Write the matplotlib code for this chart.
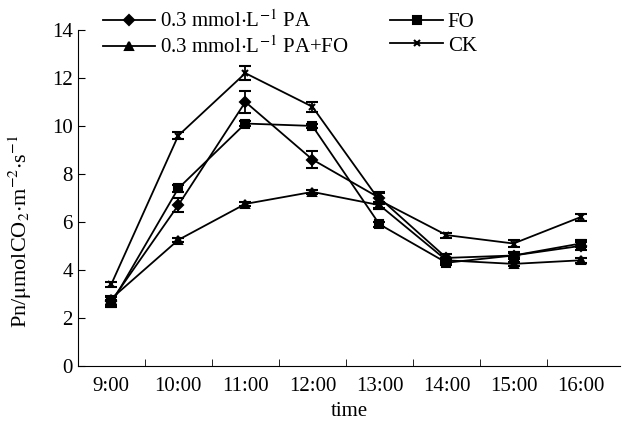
import matplotlib
matplotlib.use('Agg')
import matplotlib.pyplot as plt
from matplotlib.lines import Line2D

plt.rcParams['font.family'] = ['Liberation Serif', 'DejaVu Serif']
plt.rcParams['mathtext.fontset'] = 'stix'

# 数据
times = ['9:00', '10:00', '11:00', '12:00', '13:00', '14:00', '15:00', '16:00']
pa = [2.7, 6.7, 11.0, 8.6, 7.0, 4.5, 4.6, 5.0]
pa_err = [0.15, 0.3, 0.45, 0.35, 0.25, 0.15, 0.1, 0.15]
fo = [2.6, 7.4, 10.1, 10.0, 5.9, 4.3, 4.6, 5.1]
fo_err = [0.15, 0.15, 0.1, 0.1, 0.1, 0.1, 0.15, 0.15]
pafo = [2.8, 5.25, 6.75, 7.25, 6.7, 4.4, 4.25, 4.4]
pafo_err = [0.1, 0.1, 0.1, 0.1, 0.15, 0.1, 0.1, 0.1]
ck = [3.4, 9.6, 12.2, 10.8, 6.9, 5.45, 5.1, 6.2]
ck_err = [0.1, 0.15, 0.3, 0.2, 0.3, 0.1, 0.15, 0.15]

labels = [r'0.3 mmol$\cdot$L$^{-1}$ PA', r'0.3 mmol$\cdot$L$^{-1}$ PA+FO', 'FO', 'CK']

fig = plt.figure(figsize=(6.22, 4.22), dpi=100)
ax = fig.add_axes([0.125, 0.133, 0.872, 0.796])

x = list(range(len(times)))
style = dict(color='black', lw=1.3, capsize=4.5, capthick=1.3, elinewidth=1.3)
# 四组数据: (值, 误差, 标记, 大小)
series = [(pa, pa_err, 'D', 5), (pafo, pafo_err, '^', 6), (fo, fo_err, 's', 6), (ck, ck_err, 'x', 4)]
handles = []
for vals, errs, mk, ms in series:
    ax.errorbar(x, vals, yerr=errs, marker=mk, ms=ms, mew=1.5, **style)
    handles.append(Line2D([], [], color='black', lw=1.3, marker=mk, ms=ms, mew=1.5))

ax.set_xlim(-0.5, 7.59)
ax.set_ylim(0, 14)
ax.set_yticks(range(0, 15, 2))
ax.set_xticks(x)
ax.set_xticklabels(times)
ax.set_xticks([i + 0.5 for i in range(7)], minor=True)
ax.tick_params(axis='x', which='major', length=0, labelsize=15, pad=8)
ax.tick_params(axis='x', which='minor', direction='in', length=5)
ax.tick_params(axis='y', direction='in', length=5, labelsize=15)
ax.spines['top'].set_visible(False)
ax.spines['right'].set_visible(False)

ax.set_xlabel('time', fontsize=15, labelpad=4)
ax.set_ylabel(r'Pn/$\mathrm{\mu}$molCO$_2$$\cdot$m$^{-2}$$\cdot$s$^{-1}$', fontsize=16)
ax.yaxis.set_label_coords(-0.08, 0.40)

fig.legend(handles, labels,
           loc='upper left', bbox_to_anchor=(0.135, 1.02), ncol=2, frameon=False,
           fontsize=15, handlelength=2.5, handletextpad=0.25, columnspacing=2.0,
           labelspacing=0.2)

fig.savefig('out.png', dpi=100)
